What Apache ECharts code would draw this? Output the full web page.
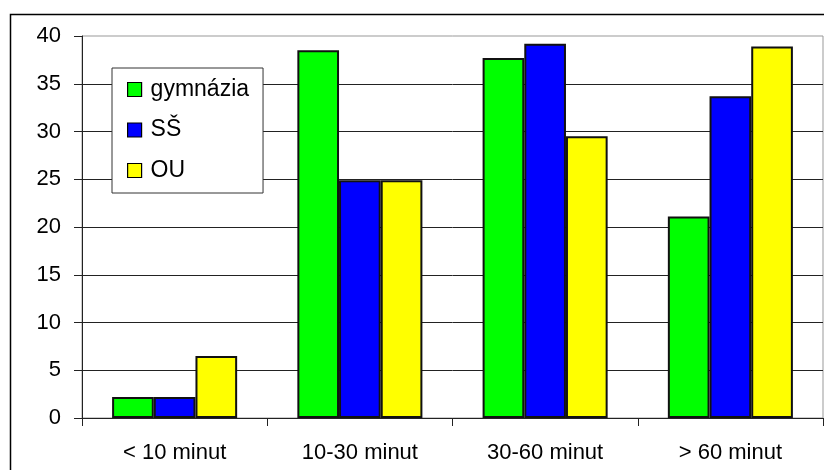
<!DOCTYPE html>
<html>
<head>
<meta charset="utf-8">
<script src="https://cdn.jsdelivr.net/npm/echarts@6/dist/echarts.min.js"></script>
<style>
html,body{margin:0;padding:0;background:#fff;}
#c{width:824px;height:470px;}
</style>
</head>
<body>
<div id="c"></div>
<script>
const categories = ['< 10 minut', '10-30 minut', '30-60 minut', '> 60 minut'];
const gymnazia = [2.2, 38.5, 37.7, 21.1];
const ss = [2.2, 24.9, 39.2, 33.7];
const ou = [6.5, 24.9, 29.5, 38.9];
const seriesNames = ['gymnázia', 'SŠ', 'OU'];
const seriesColors = ['#00FF00', '#0000FF', '#FFFF00'];
const seriesData = [gymnazia, ss, ou];

const FONT = '"Liberation Sans", Arial, sans-serif';
const chart = echarts.init(document.getElementById('c'), null, {renderer: 'canvas'});
chart.setOption({
  animation: false,
  backgroundColor: '#fff',
  graphic: [{
    type: 'rect',
    z: -10,
    shape: {x: 10.5, y: 14.5, width: 900, height: 600},
    style: {fill: 'none', stroke: '#000', lineWidth: 1.5}
  }],
  grid: {
    left: 82, top: 36, right: 1, bottom: 52,
    show: true, borderColor: '#999', borderWidth: 1, backgroundColor: 'transparent'
  },
  legend: {
    orient: 'vertical',
    left: 112, top: 68,
    padding: [10, 14, 11, 15],
    itemGap: 17.5,
    itemWidth: 14, itemHeight: 14,
    icon: 'rect',
    backgroundColor: '#fff',
    borderColor: '#333', borderWidth: 1,
    textStyle: {fontFamily: FONT, fontSize: 23, color: '#000', padding: [0, 0, 0, 4]},
    data: seriesNames.map((n, i) => ({name: n, itemStyle: {color: seriesColors[i], borderColor: '#000', borderWidth: 1.2}}))
  },
  xAxis: {
    type: 'category',
    data: categories,
    axisLine: {lineStyle: {color: '#222', width: 1}},
    axisTick: {show: true, length: 8, lineStyle: {color: '#222'}},
    axisLabel: {fontFamily: FONT, fontSize: 22, color: '#000', margin: 24}
  },
  yAxis: {
    type: 'value',
    min: 0, max: 40, interval: 5,
    axisLine: {show: true, lineStyle: {color: '#222', width: 1}},
    axisTick: {show: true, length: 8, lineStyle: {color: '#222'}},
    axisLabel: {fontFamily: FONT, fontSize: 22, color: '#000', margin: 21},
    splitLine: {show: true, showMaxLine: false, lineStyle: {color: '#222', width: 1}}
  },
  series: seriesNames.map((n, i) => ({
    name: n,
    type: 'bar',
    data: seriesData[i],
    barGap: '0%',
    barCategoryGap: '32.5%',
    itemStyle: {color: seriesColors[i], borderColor: '#111', borderWidth: 2}
  }))
});
</script>
</body>
</html>
